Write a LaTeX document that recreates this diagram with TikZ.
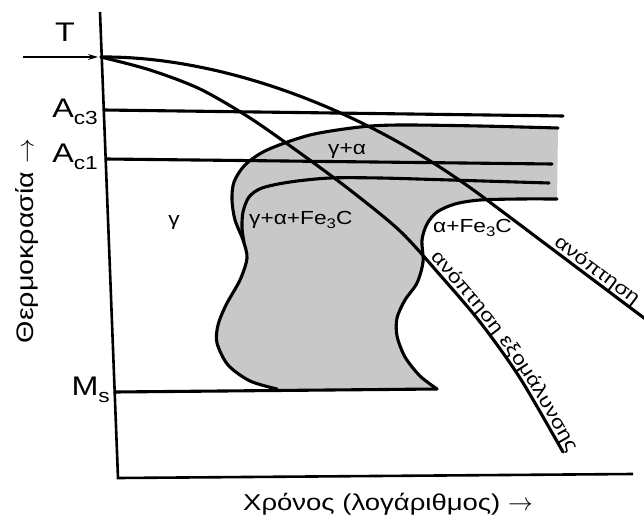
\documentclass[tikz,border=0pt]{standalone}
\usepackage{fontspec}
\setmainfont[FakeStretch=1.2]{Liberation Sans}
\usetikzlibrary{arrows.meta,decorations.text}
\definecolor{fillgray}{RGB}{200,200,200}
\newcommand{\lblfont}{\fontsize{19}{19}\selectfont}
\newcommand{\bigfont}{\fontsize{27}{27}\selectfont}
\newcommand{\bigsub}[1]{\raisebox{-7bp}{\fontsize{19}{19}\selectfont #1}}
\newcommand{\smallsub}[1]{\raisebox{-4bp}{\fontsize{14}{14}\selectfont #1}}
\tikzset{
  curve/.style={line width=3.1bp, line cap=round, line join=round},
  axisline/.style={line width=2.6bp, line join=miter},
  lbl/.style={font=\lblfont, inner sep=0pt},
  biglbl/.style={font=\bigfont, inner sep=0pt},
}
\begin{document}
\begin{tikzpicture}[x=1bp,y=-1bp]
\useasboundingbox (0,0) rectangle (644,532);
\fill[white] (0,0) rectangle (644,532);

% gray transformation region
\fill[fillgray]
  plot[smooth] coordinates {(558,128) (480,126) (400,125) (360,127) (310,135) (267,150) (245,165) (234,182) (232,200) (235,220) (243,240) (247,258) (240,280) (226,305) (218,325) (217,343) (228,365) (250,381) (277,389)}
  -- plot[smooth] coordinates {(437,389) (420,376) (405,357) (397,336) (397,318) (405,300) (417,283) (423,262) (422,240) (427,224) (437,212) (455,204) (480,200) (520,199) (557,199)}
  -- cycle;

% coordinates
\coordinate (O) at (101,57);
\coordinate (ytop) at (100,12);
\coordinate (orig) at (118,478);
\coordinate (xend) at (633,474);
\coordinate (tstart) at (23,57);

% critical temperature lines
\draw[curve] (104,110) -- (563,116);
\draw[curve] (106,159) -- (552,164);
\draw[curve] (115,392) -- (437,389);

% start curve (outer)
\draw[curve] plot[smooth] coordinates {(558,128) (480,126) (400,125) (360,127) (310,135) (267,150) (245,165) (234,182) (232,200) (235,220) (243,240) (247,258) (240,280) (226,305) (218,325) (217,343) (228,365) (250,381) (277,389)};
% inner curve
\draw[curve] plot[smooth] coordinates {(549,183) (450,180) (380,178) (330,178) (290,182) (262,188) (249,197) (243,212) (242,228) (244,242)};
% finish curve
\draw[curve] plot[smooth] coordinates {(437,389) (420,376) (405,357) (397,336) (397,318) (405,300) (417,283) (423,262) (422,240) (427,224) (437,212) (455,204) (480,200) (520,199) (557,199)};

% cooling curves
\draw[curve] (O) .. controls (205,56) and (350,97) .. (487,200) -- (646,319.5);
\draw[curve] plot[smooth] coordinates {(101,57) (150,70) (200,89) (250,118) (300,153) (350,190) (400,231) (440,275) (480,322) (520,378) (563,452)};

% texts along cooling curves
\path[decorate, decoration={text along path, text={|\lblfont|ανόπτηση}, text align={left indent=80bp}, raise=4bp}] (487,200) -- (720,375);
\path[decorate, decoration={text along path, text={|\lblfont|ανόπτηση εξομάλυνσης}, text align={left indent=6bp}, raise=4bp}] plot[smooth] coordinates {(423,256) (440,275) (480,322) (520,378) (563,452) (590,503) (610,545)};

% axes
\draw[axisline] (ytop) -- (orig) -- (xend);
\draw[line width=1.3bp, -{Stealth[length=10bp,width=6bp]}, shorten >=3bp] (tstart) -- (O);

% labels
\node[biglbl, anchor=base] (T) at (65,42) {T};
\node[biglbl, anchor=base east] (Ac3) at (98,118) {A\bigsub{c3}};
\node[biglbl, anchor=base east] (Ac1) at (98,163) {A\bigsub{c1}};
\node[biglbl, anchor=base east] (Ms) at (110,395) {M\bigsub{s}};

\node[lbl] (gamma) at (174,222) {γ};
\node[lbl, anchor=base west] (gaf) at (249,225) {γ+α+Fe\smallsub{3}C};
\node[lbl, anchor=base west] (ga) at (328,155) {γ+α};
\node[lbl, anchor=base west] (af) at (433,233) {α+Fe\smallsub{3}C};

\node[font=\fontsize{24}{24}\selectfont, rotate=90, inner sep=0pt] (ylab) at (27,241) {Θερμοκρασία $\rightarrow$};
\node[font=\fontsize{23}{23}\selectfont, anchor=base, inner sep=0pt] (xlab) at (388,510) {Χρόνος (λογάριθμος) $\rightarrow$};
\end{tikzpicture}
\end{document}
